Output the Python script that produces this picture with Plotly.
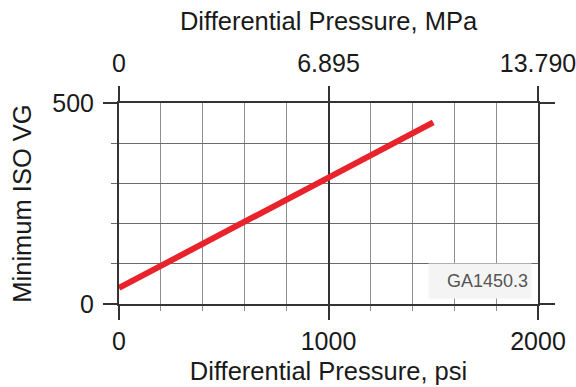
import plotly.graph_objects as go

# Data
psi = [0, 1500]
iso_vg = [40, 452]
mpa_ticks = [0, 6.895, 13.79]
mpa_labels = ["0", "6.895", "13.790"]
vg_edge = [0, 500]

MAJ = "#333333"
MIN_X = "#8f8f8f"
MIN_Y = "#6a6a6a"
FONT = "Liberation Sans"
TFONT = dict(family=FONT, size=25.5, color="#1a1a1a")

fig = go.Figure()
fig.add_trace(go.Scatter(x=psi, y=iso_vg, mode="lines",
                         line=dict(color="#E8232B", width=6),
                         hoverinfo="skip", showlegend=False))
# invisible helper trace for secondary axes
fig.add_trace(go.Scatter(x=[mpa_ticks[0], mpa_ticks[-1]], y=vg_edge, xaxis="x2", yaxis="y2",
                         mode="markers", marker=dict(opacity=0), hoverinfo="skip",
                         showlegend=False))

fig.update_layout(
    width=576, height=387,
    margin=dict(l=119, r=38, t=103, b=83),
    plot_bgcolor="white", paper_bgcolor="white",
    font=dict(family=FONT, size=25, color="#1a1a1a"),
    xaxis=dict(
        range=[0, 2000], tick0=0, dtick=1000, automargin=False,
        ticks="outside", ticklen=14, tickwidth=2, tickcolor=MAJ,
        showgrid=True, gridcolor=MAJ, gridwidth=2,
        showline=True, linecolor=MAJ, linewidth=2, mirror=True,
        zeroline=False, ticklabeloverflow="allow",
        minor=dict(dtick=200, ticks="outside", ticklen=5, tickwidth=1,
                   tickcolor=MIN_X, showgrid=True, gridcolor=MIN_X, gridwidth=1),
        title=dict(text="Differential Pressure, psi", standoff=8, font=TFONT),
    ),
    yaxis=dict(
        range=[0, 500], tick0=0, dtick=500, automargin=False,
        ticks="outside", ticklen=14, tickwidth=2, tickcolor=MAJ,
        showgrid=False, ticklabelstandoff=4,
        showline=True, linecolor=MAJ, linewidth=2, mirror=True,
        zeroline=False,
        minor=dict(dtick=100, ticks="outside", ticklen=6, tickwidth=1,
                   tickcolor=MIN_Y, showgrid=True, gridcolor=MIN_Y, gridwidth=1),
        title=dict(text="Minimum ISO VG", standoff=13, font=TFONT),
    ),
    xaxis2=dict(
        overlaying="x", side="top", range=[0, 13.79], automargin=False,
        tickvals=mpa_ticks, ticktext=mpa_labels,
        ticks="outside", ticklen=16, tickwidth=2, tickcolor=MAJ,
        ticklabelstandoff=4, ticklabeloverflow="allow",
        showgrid=False, zeroline=False, showline=False,
        title=dict(text="Differential Pressure, MPa", standoff=11, font=TFONT),
    ),
    yaxis2=dict(
        overlaying="y", side="right", range=[0, 500], automargin=False,
        tickvals=vg_edge, showticklabels=False,
        ticks="outside", ticklen=16, tickwidth=2, tickcolor=MAJ,
        showgrid=False, zeroline=False, showline=False,
    ),
    annotations=[dict(
        text="GA1450.3", xref="paper", yref="paper", x=0.9857, y=0.0249,
        xanchor="right", yanchor="bottom", showarrow=False,
        width=96, height=28, align="right", valign="middle",
        font=dict(family=FONT, size=18, color="#555555"),
        bgcolor="#f4f4f4", borderpad=3,
    )],
)

fig.write_html("out.html", config={"displayModeBar": False},
               post_script="document.body.style.margin='0';")
